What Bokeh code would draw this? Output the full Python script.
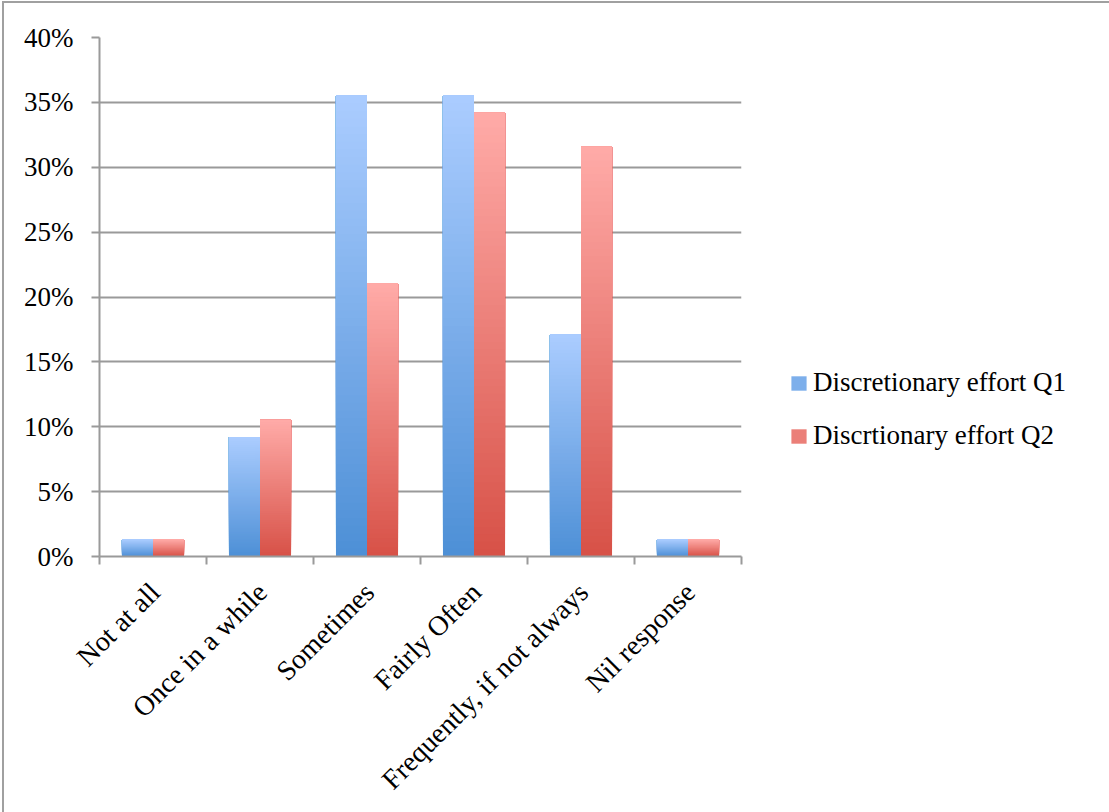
import math
from bokeh.plotting import figure
from bokeh.models import (FixedTicker, PrintfTickFormatter, Legend, LegendItem,
                          ColumnDataSource, Range1d)
from bokeh.embed import file_html
from bokeh.resources import INLINE

# ---- data ----
categories = ["Not at all", "Once in a while", "Sometimes", "Fairly Often",
              "Frequently, if not always", "Nil response"]
q1_values = [1.32, 9.21, 35.53, 35.53, 17.11, 1.32]
q2_values = [1.32, 10.53, 21.05, 34.21, 31.58, 1.32]
series_names = ["Discretionary effort Q1", "Discrtionary effort Q2"]
y_ticks = [0, 5, 10, 15, 20, 25, 30, 35, 40]

# ---- style ----
FONT = "Liberation Serif"
GRID = "#9a9a9a"
q1_top, q1_bot = (171, 205, 255), (77, 143, 214)
q2_top, q2_bot = (255, 171, 168), (215, 81, 71)
BAR_W = 0.29
OFFS = 0.145
N_SLICES = 60


def lerp(c1, c2, t):
    return "#%02x%02x%02x" % tuple(int(round(a + (b - a) * t)) for a, b in zip(c1, c2))


p = figure(frame_width=642, frame_height=519, min_border_left=95, min_border_top=34,
           min_border_right=368, min_border_bottom=256,
           x_range=Range1d(0, len(categories)), y_range=Range1d(0, 40),
           output_backend="svg", toolbar_location=None, tools="")
p.styles = {"border-top": "2px solid #a0a0a0", "border-left": "2px solid #a0a0a0",
            "margin-left": "2px", "margin-top": "1px"}
p.outline_line_color = None
p.background_fill_color = "white"
p.border_fill_color = "white"


def gradient_bars(values, offset, top_c, bot_c):
    # layered: slice k spans from v*k/N up to v, later (lighter) slices cover the upper part
    left, right, bottom, top, color = [], [], [], [], []
    for k in range(N_SLICES):
        for i, v in enumerate(values):
            xc = i + 0.5 + offset
            left.append(xc - BAR_W / 2)
            right.append(xc + BAR_W / 2)
            bottom.append(v * k / N_SLICES)
            top.append(v)
            color.append(lerp(bot_c, top_c, (k + 0.5) / N_SLICES))
    src = ColumnDataSource(dict(left=left, right=right, bottom=bottom, top=top, color=color))
    return p.quad(left="left", right="right", bottom="bottom", top="top",
                  fill_color="color", line_color=None, source=src)


# grid
p.ygrid.ticker = FixedTicker(ticks=y_ticks)
p.ygrid.grid_line_color = GRID
p.ygrid.grid_line_width = 2
p.xgrid.grid_line_color = None

r1 = gradient_bars(q1_values, -OFFS, q1_top, q1_bot)
r2 = gradient_bars(q2_values, OFFS, q2_top, q2_bot)

# y axis
ya = p.yaxis[0]
ya.ticker = FixedTicker(ticks=y_ticks)
ya.formatter = PrintfTickFormatter(format="%d%%")
ya.axis_line_color = GRID
ya.axis_line_width = 2
ya.major_tick_line_color = GRID
ya.major_tick_line_width = 2
ya.major_tick_out = 8
ya.major_tick_in = 0
ya.minor_tick_line_color = None
ya.major_label_standoff = 18
ya.major_label_text_font = FONT
ya.major_label_text_font_size = "27px"
ya.major_label_text_color = "black"

# x axis
xa = p.xaxis[0]
label_pos = [i + 0.5 + 0.02 for i in range(len(categories))]
xa.ticker = FixedTicker(ticks=label_pos, minor_ticks=list(range(len(categories) + 1)))
xa.major_label_overrides = {lp: c for lp, c in zip(label_pos, categories)}
xa.major_label_orientation = math.pi / 4
xa.axis_line_color = GRID
xa.axis_line_width = 2
xa.major_tick_line_color = None
xa.major_tick_out = 0
xa.major_tick_in = 0
xa.minor_tick_line_color = GRID
xa.minor_tick_line_width = 2
xa.minor_tick_out = 8
xa.minor_tick_in = 0
xa.major_label_standoff = 23
xa.major_label_text_font = FONT
xa.major_label_text_font_size = "28px"
xa.major_label_text_color = "black"

mid = (N_SLICES // 2) * len(categories)
legend = Legend(items=[LegendItem(label=series_names[0], renderers=[r1], index=mid),
                       LegendItem(label=series_names[1], renderers=[r2], index=mid)],
                location=(48, 105), orientation="vertical",
                border_line_color=None, background_fill_alpha=0,
                padding=0, margin=0, spacing=22, glyph_width=19, glyph_height=18,
                label_standoff=5, label_text_font=FONT, label_text_font_size="27px",
                label_text_color="black")
p.add_layout(legend, "right")

open("out.html", "w").write(file_html(p, INLINE))
